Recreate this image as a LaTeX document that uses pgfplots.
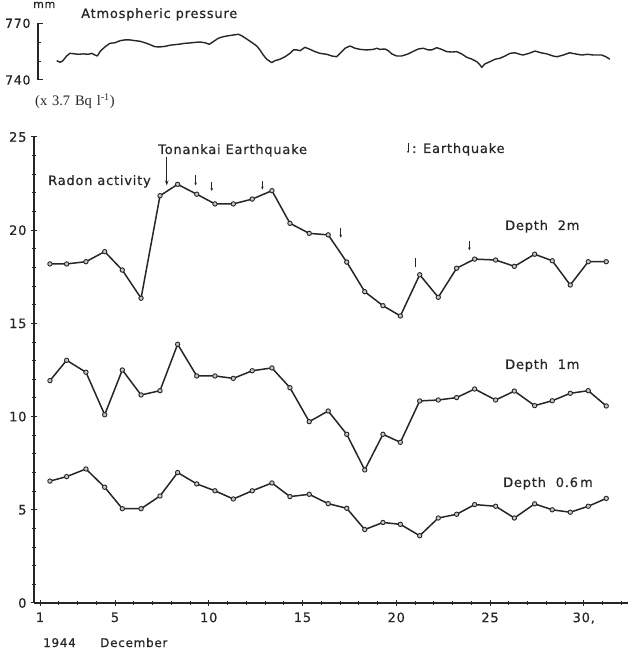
\documentclass[border=0pt]{standalone}
\usepackage{fontspec}
\setmainfont{DejaVu Sans}[LetterSpace=6, FakeBold=0.6]
\newfontfamily\seriffont{Liberation Serif}
\usepackage{pgfplots}
\usepackage{pgfplotstable}
\pgfplotsset{compat=1.18}
\usetikzlibrary{arrows.meta}

\pgfplotstableread{
x d2 d1 d06
1.53 18.19 11.93 6.54
2.42 18.19 13.02 6.78
3.45 18.31 12.38 7.19
4.45 18.85 10.10 6.21
5.39 17.86 12.50 5.06
6.39 16.35 11.16 5.06
7.40 21.85 11.39 5.74
8.34 22.46 13.88 7.00
9.36 21.93 12.18 6.39
10.33 21.41 12.18 6.02
11.31 21.41 12.05 5.58
12.32 21.67 12.46 6.02
13.37 22.12 12.61 6.44
14.33 20.37 11.55 5.71
15.36 19.83 9.73 5.83
16.37 19.75 10.30 5.33
17.36 18.29 9.05 5.08
18.32 16.70 7.14 3.94
19.29 15.95 9.05 4.32
20.22 15.40 8.62 4.22
21.25 17.61 10.84 3.61
22.24 16.40 10.89 4.56
23.22 17.96 11.02 4.76
24.18 18.45 11.48 5.28
25.30 18.40 10.89 5.19
26.30 18.06 11.37 4.56
27.38 18.71 10.59 5.32
28.32 18.36 10.85 5.00
29.28 17.06 11.25 4.87
30.24 18.31 11.39 5.19
31.20 18.31 10.57 5.61
}\radon

\pgfplotstableread{
x p
1.89 750.2
2.07 749.4
2.21 750.1
2.42 752.7
2.60 754.1
2.78 753.9
3.04 753.6
3.31 753.8
3.58 753.6
3.76 754.1
3.93 753.2
4.06 752.7
4.20 755.0
4.47 757.6
4.73 759.4
5.00 759.7
5.27 760.8
5.53 761.2
5.80 761.2
6.07 760.8
6.33 760.5
6.60 759.7
6.87 758.7
7.13 757.6
7.40 757.5
7.67 757.8
7.93 758.4
8.20 758.7
8.47 759.0
8.73 759.4
9.00 759.6
9.27 759.9
9.53 760.1
9.80 759.7
10.03 758.9
10.24 760.3
10.51 762.1
10.77 762.9
11.04 763.4
11.31 763.8
11.58 764.2
11.76 763.4
12.02 761.7
12.29 759.9
12.56 758.0
12.73 755.9
12.91 753.2
13.09 751.0
13.36 749.2
13.53 750.2
13.80 751.0
14.07 752.3
14.33 754.1
14.51 755.9
14.69 755.9
14.87 755.5
15.13 757.3
15.40 756.2
15.67 755.0
15.93 754.1
16.29 753.6
16.56 752.7
16.82 752.3
17.00 754.1
17.27 756.8
17.53 758.0
17.80 756.8
18.07 756.2
18.42 755.9
18.78 756.2
18.96 756.8
19.13 756.2
19.40 756.4
19.58 755.5
19.76 753.8
20.02 752.7
20.29 752.7
20.64 753.8
20.91 755.2
21.18 756.4
21.44 756.8
21.71 755.9
21.89 755.9
22.16 757.1
22.42 756.2
22.69 755.0
22.96 754.8
23.22 755.0
23.49 753.8
23.76 752.0
24.02 751.1
24.29 749.7
24.47 747.9
24.56 746.7
24.73 748.5
25.00 749.7
25.27 751.0
25.53 751.5
25.80 752.7
26.07 754.1
26.33 754.4
26.60 753.6
26.76 753.2
27.08 754.1
27.40 755.3
27.72 754.4
28.04 753.8
28.36 752.7
28.57 752.3
28.91 753.2
29.24 754.4
29.56 753.8
29.89 753.2
30.20 753.6
30.53 753.2
30.96 753.2
31.18 752.3
31.39 751.0
}\pressure

\begin{document}
\begin{tikzpicture}
\useasboundingbox (0,0) rectangle (633bp,655bp);

% Atmospheric pressure panel
\begin{axis}[
  at={(38bp,575bp)}, anchor=south west,
  scale only axis, width=590bp, height=56.7bp,
  xmin=0.893, xmax=32.36, ymin=740, ymax=770,
  axis x line=none, axis y line*=left,
  ytick={740,770}, minor ytick={750,760},
  tick align=inside, major tick length=5bp, minor tick length=3bp,
  tick style={black!85, line width=1bp},
  axis line style={black!85, line width=1.2bp},
  ticklabel style={font=\fontsize{12.5bp}{14bp}\selectfont, black!85},
  yticklabel style={xshift=-4bp},
  /pgf/number format/assume math mode=true,
  clip=false,
]
\addplot[black!85, line width=1.4bp, line join=round] table[x=x,y=p]{\pressure};
\end{axis}

% Radon panel
\begin{axis}[
  at={(34bp,52bp)}, anchor=south west,
  scale only axis, width=594bp, height=466bp,
  xmin=0.68, xmax=32.36, ymin=0, ymax=25,
  axis x line*=bottom, axis y line*=left,
  xtick={1,5,10,15,20,25,30}, xticklabels={1,5,10,15,20,25,{30,}},
  minor xtick={1,...,32},
  ytick={0,5,10,15,20,25}, minor ytick={1,...,24},
  tick align=center, major tick length=6bp, minor tick length=4bp,
  tick style={black!85, line width=1bp},
  axis line style={black!85, line width=1.3bp},
  ticklabel style={font=\fontsize{13bp}{15bp}\selectfont, black!85},
  xticklabel style={yshift=-3bp},
  yticklabel style={xshift=-1bp},
  /pgf/number format/assume math mode=true,
  clip=false,
]
\addplot[black!85, line width=1.5bp, mark=*, mark size=2.2bp,
  mark options={fill=gray!45, draw=black!85, line width=0.9bp}] table[x=x,y=d2]{\radon};
\addplot[black!85, line width=1.5bp, mark=*, mark size=2.2bp,
  mark options={fill=gray!45, draw=black!85, line width=0.9bp}] table[x=x,y=d1]{\radon};
\addplot[black!85, line width=1.5bp, mark=*, mark size=2.2bp,
  mark options={fill=gray!45, draw=black!85, line width=0.9bp}] table[x=x,y=d06]{\radon};

% earthquake arrows
\draw[black!85, line width=1.1bp, -{Stealth[length=5bp,width=3.5bp]}] (axis cs:7.76,23.9) -- (axis cs:7.76,22.4);
\draw[black!85, line width=0.9bp, -{Stealth[length=3bp,width=2.6bp]}] (axis cs:9.30,22.98) -- (axis cs:9.30,22.40);
\draw[black!85, line width=0.9bp, -{Stealth[length=3bp,width=2.6bp]}] (axis cs:10.16,22.58) -- (axis cs:10.16,22.10);
\draw[black!85, line width=0.9bp, -{Stealth[length=3bp,width=2.6bp]}] (axis cs:12.86,22.62) -- (axis cs:12.86,22.18);
\draw[black!85, line width=0.9bp, -{Stealth[length=3bp,width=2.6bp]}] (axis cs:17.04,20.10) -- (axis cs:17.04,19.60);
\draw[black!85, line width=1bp] (axis cs:21.0,18.52) -- (axis cs:21.0,18.02);
\draw[black!85, line width=0.9bp, -{Stealth[length=3bp,width=2.6bp]}] (axis cs:23.9,19.42) -- (axis cs:23.9,18.92);
\draw[black!85, line width=1bp, -{Stealth[length=2bp,width=2bp]}] (axis cs:20.63,24.68) -- (axis cs:20.63,24.14);
\end{axis}

% texts
\node[anchor=base west, inner sep=0, black!85] at (33bp,647bp) {\fontsize{11bp}{13bp}\selectfont mm};
\node[anchor=base west, inner sep=0, black!85] at (81bp,637bp) {\fontsize{13bp}{15bp}\selectfont Atmospheric pressure};
\node[anchor=base west, inner sep=0, black!85] at (35bp,549bp) {\seriffont\fontsize{14.5bp}{16bp}\selectfont (x\,\,3.7\,\,Bq\,\,l\textsuperscript{-1})};
\node[anchor=base west, inner sep=0, black!85] at (158bp,501bp) {\fontsize{13bp}{15bp}\selectfont Tonankai Earthquake};
\node[anchor=base west, inner sep=0, black!85] at (48bp,470bp) {\fontsize{13bp}{15bp}\selectfont Radon activity};
\node[anchor=base west, inner sep=0, black!85] at (412bp,502bp) {\fontsize{13bp}{15bp}\selectfont : Earthquake};
\node[anchor=base west, inner sep=0, black!85] at (505bp,425bp) {\fontsize{13bp}{15bp}\selectfont Depth\ \ 2m};
\node[anchor=base west, inner sep=0, black!85] at (505bp,286bp) {\fontsize{13bp}{15bp}\selectfont Depth\ \ 1m};
\node[anchor=base west, inner sep=0, black!85] at (503bp,168bp) {\fontsize{13bp}{15bp}\selectfont Depth\ \ 0.6\,m};
\node[anchor=base west, inner sep=0, black!85] at (43bp,8bp) {\fontsize{12bp}{14bp}\selectfont 1944};
\node[anchor=base west, inner sep=0, black!85] at (100bp,8bp) {\fontsize{12bp}{14bp}\selectfont December};
\end{tikzpicture}
\end{document}
